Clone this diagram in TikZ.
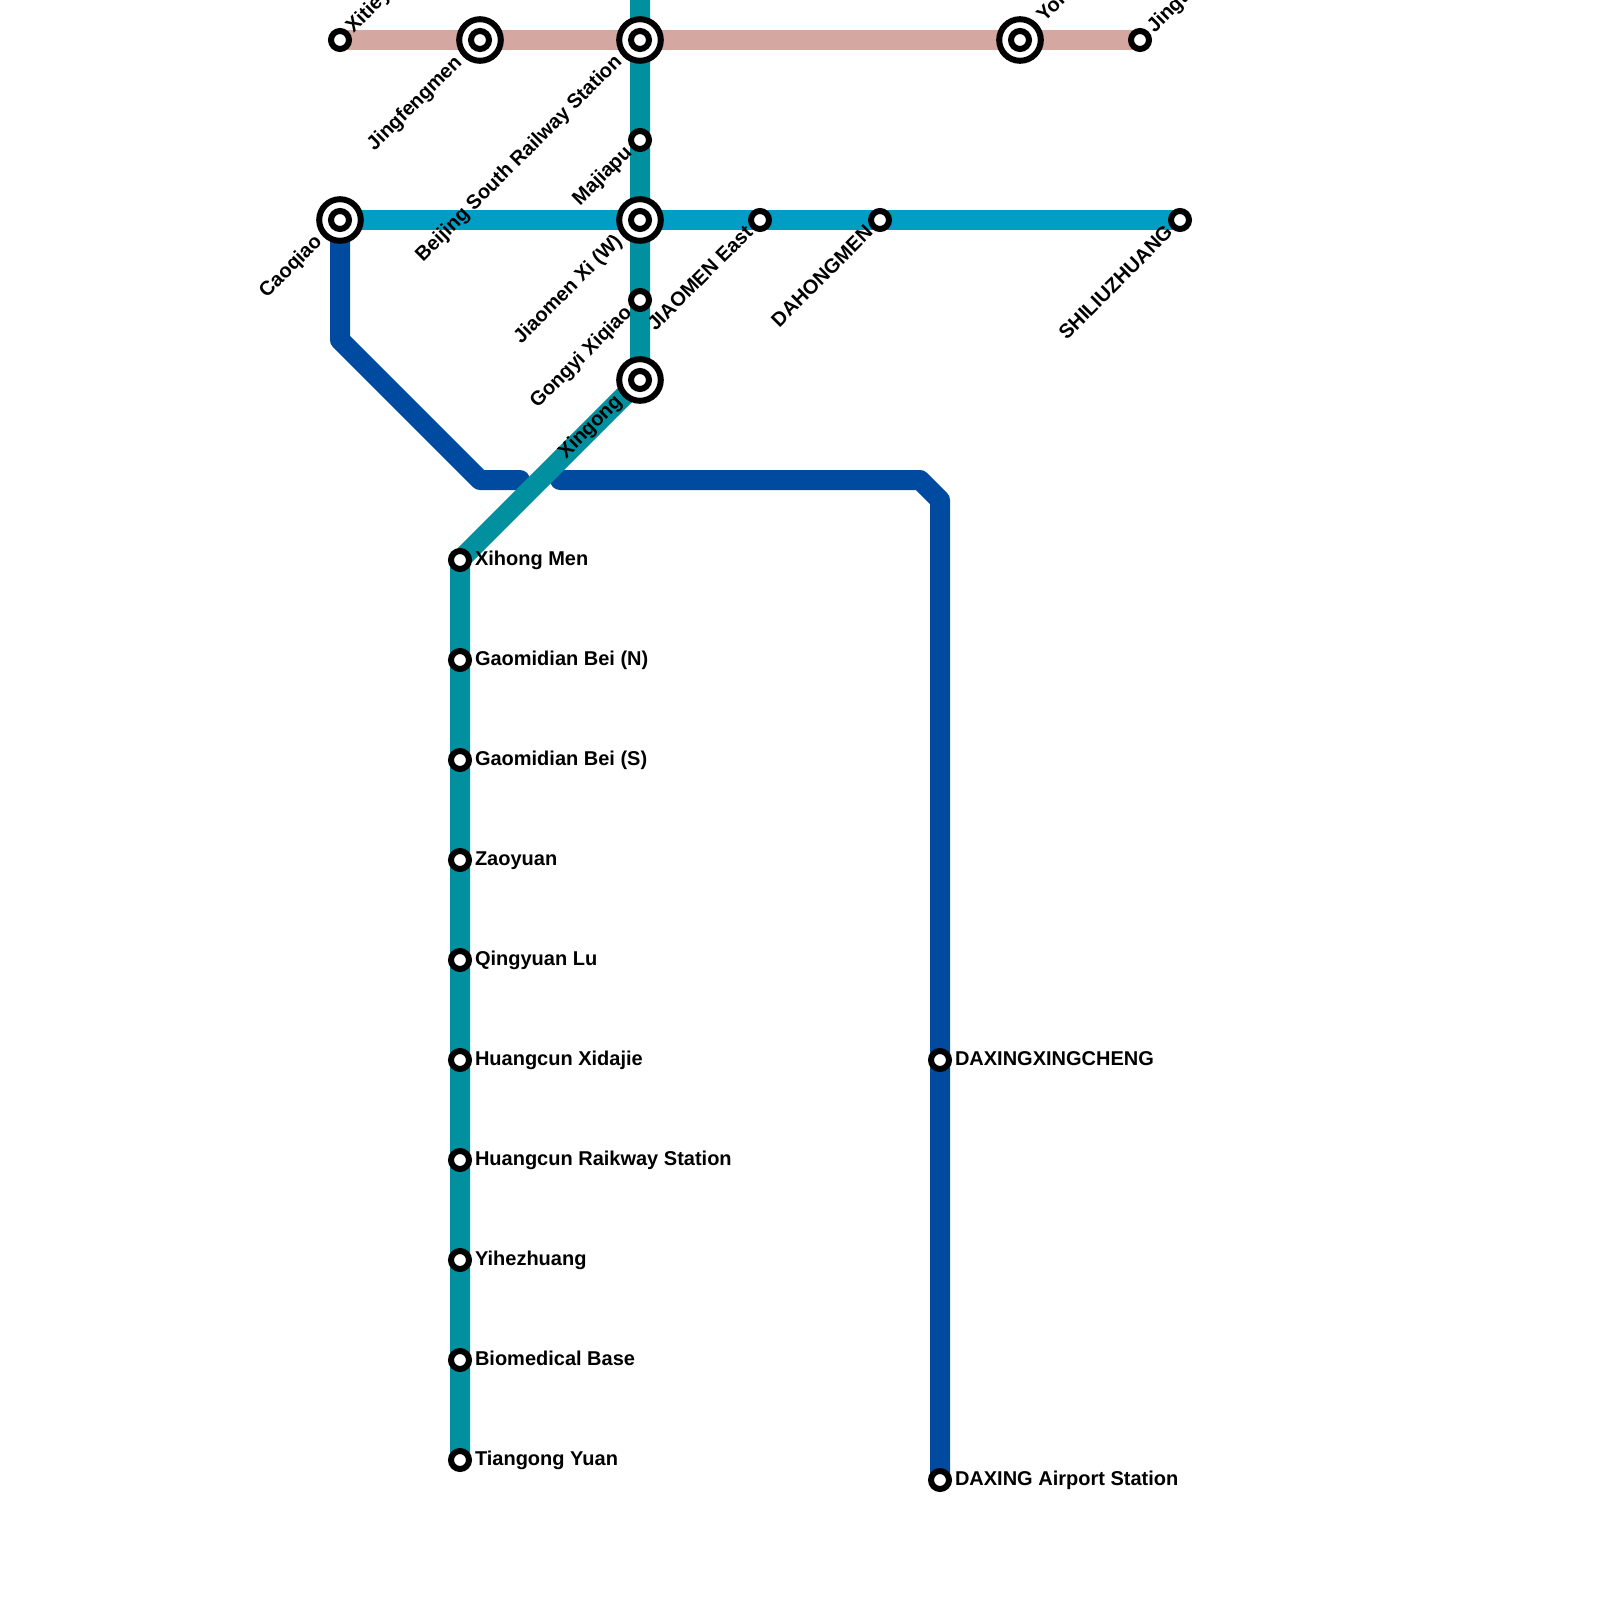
\documentclass[tikz,border=0pt]{standalone}
\usepackage{fontspec}
\setmainfont{Liberation Sans}
\usetikzlibrary{backgrounds}
\definecolor{pinkline}{HTML}{D4A8A0}
\definecolor{tealline}{HTML}{00909F}
\definecolor{skyline}{HTML}{009DC4}
\definecolor{navyline}{HTML}{004BA0}
\tikzset{
  x=0.5pt,y=-0.5pt,
  metro/.style={line width=10pt,line cap=butt,line join=round},
  smallst/.style={circle,draw=black,fill=white,line width=3pt,minimum size=9pt,inner sep=0pt,outer sep=0pt},
  bigst/.style={circle,draw=black,fill=white,line width=3pt,minimum size=20.8pt,inner sep=0pt,outer sep=0pt},
  lab/.style={font=\bfseries\fontsize{10}{12}\selectfont,text=black,inner sep=0pt,outer sep=0pt},
  labr/.style={lab,anchor=mid west},
  labdl/.style={lab,anchor=mid east,rotate=45},
  labur/.style={lab,anchor=mid west,rotate=45},
}
\begin{document}
\begin{tikzpicture}
\useasboundingbox (0,0) rectangle (1600,1600);
\clip (0,0) rectangle (1600,1600);

% waypoints
\coordinate (t0) at (640,0);
\coordinate (b1) at (340,340);
\coordinate (b2) at (480,480);
\coordinate (b3) at (520,480);
\coordinate (b4) at (560,480);
\coordinate (b5) at (920,480);
\coordinate (b6) at (940,500);

% interchange stations
\node[bigst] (xt0) at (340,220) {};
\node[bigst] (jf0) at (480,40) {};
\node[bigst] (bs0) at (640,40) {};
\node[bigst] (jx0) at (640,220) {};
\node[bigst] (xg0) at (640,380) {};
\node[bigst] (yd0) at (1020,40) {};

% stations
\node[smallst] (xty) at (340,40) {};
\node[smallst] (jf) at (480,40) {};
\node[smallst] (bs) at (640,40) {};
\node[smallst] (yd) at (1020,40) {};
\node[smallst] (jt) at (1140,40) {};
\node[smallst] (mj) at (640,140) {};
\node[smallst] (cq) at (340,220) {};
\node[smallst] (jx) at (640,220) {};
\node[smallst] (je) at (760,220) {};
\node[smallst] (dh) at (880,220) {};
\node[smallst] (sl) at (1180,220) {};
\node[smallst] (gy) at (640,300) {};
\node[smallst] (xg) at (640,380) {};
\node[smallst] (s1) at (460,560) {};
\node[smallst] (s2) at (460,660) {};
\node[smallst] (s3) at (460,760) {};
\node[smallst] (s4) at (460,860) {};
\node[smallst] (s5) at (460,960) {};
\node[smallst] (s6) at (460,1060) {};
\node[smallst] (s7) at (460,1160) {};
\node[smallst] (s8) at (460,1260) {};
\node[smallst] (s9) at (460,1360) {};
\node[smallst] (s10) at (460,1460) {};
\node[smallst] (dx) at (940,1060) {};
\node[smallst] (da) at (940,1480) {};

% lines
\begin{scope}[on background layer]
\draw[metro,pinkline] (xty.center) -- (jf.center) -- (bs.center) -- (yd.center) -- (jt.center);
\draw[metro,skyline] (cq.center) -- (jx.center) -- (je.center) -- (dh.center) -- (sl.center);
\draw[metro,navyline,line cap=round] (cq.center) -- (b1) -- (b2) -- (b3);
\draw[metro,navyline,line cap=round] (b4) -- (b5) -- (b6) -- (dx.center) -- (da.center);
\draw[metro,tealline] (t0) -- (bs.center) -- (mj.center) -- (jx.center) -- (gy.center) -- (xg.center) -- (s1.center) -- (s2.center) -- (s3.center) -- (s4.center) -- (s5.center) -- (s6.center) -- (s7.center) -- (s8.center) -- (s9.center) -- (s10.center);
\end{scope}

% labels
\node[labur] (lxty) at (350,30) {Xitieying};
\node[labur] (lyd) at (1041,19) {Yongdingmen Wai};
\node[labur] (ljt) at (1151,30) {Jingtai};
\node[labdl] (ljf) at (459,60) {Jingfengmen};
\node[labdl] (lbs) at (619,59) {Beijing South Railway Station};
\node[labdl] (lmj) at (629,150) {Majiapu};
\node[labdl] (lcq) at (319,239) {Caoqiao};
\node[labdl] (ljx) at (619,239) {Jiaomen Xi (W)};
\node[labdl] (lje) at (750,230) {JIAOMEN East};
\node[labdl] (ldh) at (870,230) {DAHONGMEN};
\node[labdl] (lsl) at (1170,230) {SHILIUZHUANG};
\node[labdl] (lgy) at (629,310) {Gongyi Xiqiao};
\node[labdl] (lxg) at (619,399) {Xingong};
\node[labr] (l1) at (475,560) {Xihong Men};
\node[labr] (l2) at (475,660) {Gaomidian Bei (N)};
\node[labr] (l3) at (475,760) {Gaomidian Bei (S)};
\node[labr] (l4) at (475,860) {Zaoyuan};
\node[labr] (l5) at (475,960) {Qingyuan Lu};
\node[labr] (l6) at (475,1060) {Huangcun Xidajie};
\node[labr] (l7) at (475,1160) {Huangcun Raikway Station};
\node[labr] (l8) at (475,1260) {Yihezhuang};
\node[labr] (l9) at (475,1360) {Biomedical Base};
\node[labr] (l10) at (475,1460) {Tiangong Yuan};
\node[labr] (ldx) at (955,1060) {DAXINGXINGCHENG};
\node[labr] (lda) at (955,1480) {DAXING Airport Station};
\end{tikzpicture}
\end{document}
